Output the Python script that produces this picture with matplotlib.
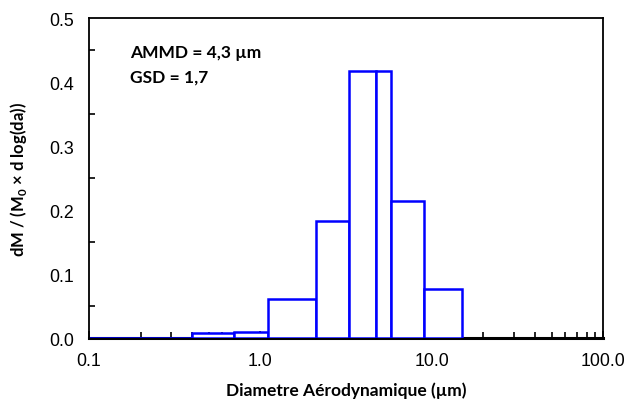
import matplotlib
matplotlib.use('Agg')
import matplotlib.pyplot as plt
from matplotlib.ticker import FixedLocator, LogLocator, NullFormatter, MultipleLocator
import numpy as np

# bin edges (um) and normalised mass per bin
bin_edges = [0.1, 0.4, 0.7, 1.1, 2.1, 3.3, 4.7, 5.8, 9.0, 15.0]
dm_values = [0.0, 0.008, 0.010, 0.061, 0.183, 0.417, 0.417, 0.215, 0.077]
x_ticks = [0.1, 1.0, 10.0, 100.0]
x_tick_labels = ['0.1', '1.0', '10.0', '100.0']
y_ticks = [0.0, 0.1, 0.2, 0.3, 0.4, 0.5]

label_font = 'Lato'
tick_font = 'Liberation Sans'
plt.rcParams['mathtext.fontset'] = 'custom'
plt.rcParams['mathtext.rm'] = 'Lato'
plt.rcParams['mathtext.bf'] = 'Lato:bold'

fig = plt.figure(figsize=(6.27, 4.02), dpi=100)
ax = fig.add_axes([0.142, 0.156, 0.820, 0.796])

left = np.array(bin_edges[:-1])
widths = np.diff(bin_edges)
ax.bar(left, dm_values, width=widths, align='edge', color='white',
       edgecolor='#0000ff', linewidth=1.8, zorder=2)

ax.set_xscale('log')
ax.set_xlim(0.1, 100)
ax.set_ylim(0, 0.5)

ax.xaxis.set_major_locator(FixedLocator(x_ticks))
ax.set_xticklabels(x_tick_labels)
ax.xaxis.set_minor_locator(LogLocator(base=10, subs=np.arange(2, 10)))
ax.xaxis.set_minor_formatter(NullFormatter())
ax.set_yticks(y_ticks)
ax.set_yticklabels(['%.1f' % v for v in y_ticks])
ax.yaxis.set_minor_locator(MultipleLocator(0.05))

ax.tick_params(axis='both', which='both', direction='in', top=False, right=False)
ax.tick_params(axis='both', which='major', length=5, width=1.2, labelsize=12.8)
ax.tick_params(axis='x', which='major', pad=10)
ax.tick_params(axis='both', which='minor', length=4, width=1.2)
ax.tick_params(axis='y', which='major', length=0, pad=11)
for lab in ax.get_xticklabels() + ax.get_yticklabels():
    lab.set_fontfamily(tick_font)

for side in ['left', 'right', 'top']:
    ax.spines[side].set_linewidth(1.3)
ax.spines['bottom'].set_linewidth(2.2)
ax.spines['bottom'].set_zorder(1)

ax.set_xlabel('Diametre Aérodynamique (µm)', fontsize=12.5, fontweight='bold',
              family=label_font, labelpad=9)
ax.set_ylabel('dM / (M$_\\mathbf{0}$ × d log(da))', fontsize=12, fontweight='bold',
              family=label_font, labelpad=14)

ax.text(0.080, 0.895, 'AMMD = 4,3 µm', transform=ax.transAxes, fontsize=12.5,
        fontweight='bold', family=label_font, va='center')
ax.text(0.080, 0.817, 'GSD = 1,7', transform=ax.transAxes, fontsize=12.5,
        fontweight='bold', family=label_font, va='center')

fig.savefig('out.png', dpi=100)
